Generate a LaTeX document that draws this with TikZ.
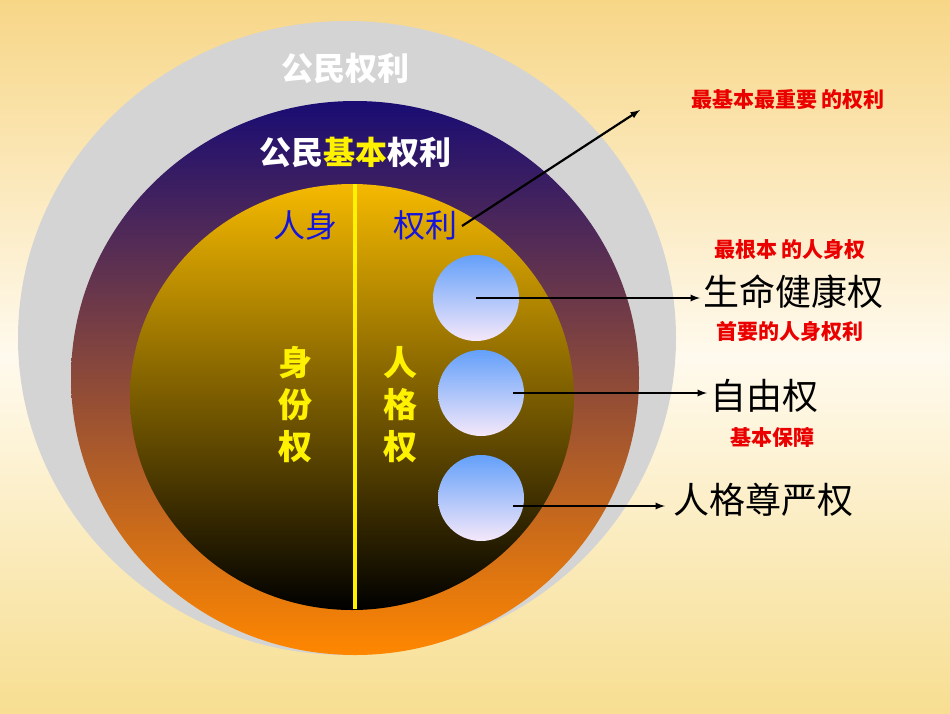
\documentclass[tikz,border=0pt]{standalone}
\usepackage{fontspec}
\newfontfamily\cjk{Noto Sans CJK SC}
\newfontfamily\cjkb{Noto Sans CJK SC Black}
\definecolor{bgt}{RGB}{247,214,135}
\definecolor{bgm}{RGB}{255,250,238}
\definecolor{bgb}{RGB}{247,222,145}
\definecolor{gray1}{RGB}{212,212,212}
\definecolor{navy}{RGB}{25,12,115}
\definecolor{org}{RGB}{255,135,0}
\definecolor{gold}{RGB}{245,185,0}
\definecolor{ballt}{RGB}{100,160,250}
\definecolor{ballb}{RGB}{245,232,250}
\definecolor{ttblue}{RGB}{20,20,220}
\definecolor{ttred}{RGB}{235,0,0}
\tikzset{
 ball/.style={ellipse,minimum width=86pt,minimum height=86pt,top color=ballt,bottom color=ballb,inner sep=0pt},
 arr/.style={-latex,line width=2.2pt},
 big/.style={font=\cjk\fontsize{36}{36}\selectfont},
 red/.style={text=ttred,font=\cjkb\fontsize{21}{21}\selectfont},
 ylw/.style={text=yellow,font=\cjkb\fontsize{34}{34}\selectfont,align=center}
}
\usetikzlibrary{shapes.geometric}
\begin{document}
\begin{tikzpicture}[x=1pt,y=-1pt]
\shade[top color=bgt,bottom color=bgb,middle color=bgm] (0,0) rectangle (950,713);
\useasboundingbox (0,0) rectangle (950,713);
\fill[gray1] (347,338) ellipse [x radius=329,y radius=317];
\shade[top color=navy,bottom color=org] (355,378) ellipse [x radius=284,y radius=277];
\shade[top color=gold,bottom color=black] (352,397) ellipse [x radius=222,y radius=213];
\draw[yellow,line width=4pt] (355,184) -- (355,609);
\node[ball] (b1) at (476,298) {};
\node[ball] (b2) at (481,393) {};
\node[ball] (b3) at (481,498) {};
\node[text=white,font=\cjk\bfseries\fontsize{32}{32}\selectfont] (t0) at (345,68) {公民权利};
\node[text=white,font=\cjk\bfseries\fontsize{32}{32}\selectfont] (t1) at (355,152) {公民\textcolor{yellow}{基本}权利};
\node[text=ttblue,font=\cjk\fontsize{32}{32}\selectfont] (t2) at (305,225) {人身};
\node[text=ttblue,font=\cjk\fontsize{32}{32}\selectfont] (t3) at (425,225) {权利};
\node[ylw] (t4) at (295,405) {身\\[8pt]份\\[8pt]权};
\node[ylw] (t5) at (400,405) {人\\[8pt]格\\[8pt]权};
\node[red] (r1) at (788,100) {最基本最重要 的权利};
\node[red] (r2) at (790,250) {最根本 的人身权};
\node[red] (r3) at (790,331) {首要的人身权利};
\node[red] (r4) at (772,437) {基本保障};
\node[big,anchor=west] (l1) at (700,292) {生命健康权};
\node[big,anchor=west] (l2) at (707,396) {自由权};
\node[big,anchor=west] (l3) at (670,500) {人格尊严权};
\coordinate (a0) at (462,226);
\coordinate (a1) at (640,110);
\draw[arr] (a0) -- (a1);
\draw[arr] (b1.center) -- (l1.west|-b1);
\draw[arr] (b2.center) ++(32,0) coordinate (c2) (c2) -- (l2.west|-b2);
\draw[arr] (b3.center) ++(32,8) coordinate (c3) (c3) -- (665,506);
\end{tikzpicture}
\end{document}
